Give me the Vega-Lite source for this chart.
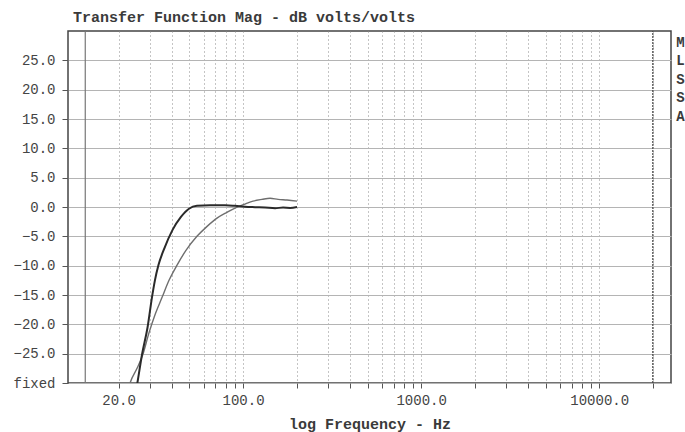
{
  "$schema": "https://vega.github.io/schema/vega-lite/v6.json",
  "width": 603,
  "height": 352,
  "autosize": "none",
  "padding": {"left": 68, "top": 31, "right": 14, "bottom": 49},
  "background": "white",
  "config": {
    "view": {"stroke": "#444", "strokeWidth": 1.5},
    "font": "Liberation Mono"
  },
  "title": {
    "text": "Transfer Function Mag - dB volts/volts",
    "anchor": "start",
    "frame": "group",
    "dx": 5,
    "offset": 5,
    "font": "Liberation Mono",
    "fontSize": 15,
    "fontWeight": "bold",
    "color": "#3a3a3a"
  },
  "datasets": {
    "curves": [
      {"series": "A", "f": 25.0, "db": -31.5},
      {"series": "A", "f": 25.5, "db": -30.0},
      {"series": "A", "f": 27.1, "db": -25.1},
      {"series": "A", "f": 29.1, "db": -20.5},
      {"series": "A", "f": 30.8, "db": -15.4},
      {"series": "A", "f": 32.0, "db": -12.5},
      {"series": "A", "f": 33.5, "db": -9.9},
      {"series": "A", "f": 36.2, "db": -7.0},
      {"series": "A", "f": 40.2, "db": -3.9},
      {"series": "A", "f": 44.8, "db": -1.7},
      {"series": "A", "f": 49.7, "db": -0.3},
      {"series": "A", "f": 55.1, "db": 0.2},
      {"series": "A", "f": 65.3, "db": 0.3},
      {"series": "A", "f": 79.2, "db": 0.3},
      {"series": "A", "f": 90.2, "db": 0.2},
      {"series": "A", "f": 102.6, "db": 0.05},
      {"series": "A", "f": 116.8, "db": -0.03},
      {"series": "A", "f": 132.9, "db": -0.1},
      {"series": "A", "f": 151.4, "db": -0.2},
      {"series": "A", "f": 167.8, "db": -0.1},
      {"series": "A", "f": 183.7, "db": -0.15},
      {"series": "A", "f": 201.0, "db": 0.0},
      {"series": "B", "f": 22.7, "db": -31.0},
      {"series": "B", "f": 23.2, "db": -30.0},
      {"series": "B", "f": 25.4, "db": -27.5},
      {"series": "B", "f": 27.4, "db": -25.1},
      {"series": "B", "f": 29.6, "db": -21.5},
      {"series": "B", "f": 32.0, "db": -18.4},
      {"series": "B", "f": 35.1, "db": -15.4},
      {"series": "B", "f": 38.4, "db": -12.5},
      {"series": "B", "f": 42.6, "db": -9.9},
      {"series": "B", "f": 47.8, "db": -7.4},
      {"series": "B", "f": 55.1, "db": -5.0},
      {"series": "B", "f": 62.8, "db": -3.3},
      {"series": "B", "f": 71.4, "db": -1.9},
      {"series": "B", "f": 81.3, "db": -0.9},
      {"series": "B", "f": 91.3, "db": -0.1},
      {"series": "B", "f": 102.6, "db": 0.5},
      {"series": "B", "f": 113.8, "db": 1.0},
      {"series": "B", "f": 127.8, "db": 1.3},
      {"series": "B", "f": 141.8, "db": 1.5},
      {"series": "B", "f": 157.4, "db": 1.3},
      {"series": "B", "f": 176.6, "db": 1.2},
      {"series": "B", "f": 201.0, "db": 1.0}
    ],
    "markers": [
      {"kind": "low", "f": 13.0},
      {"kind": "high", "f": 20000}
    ]
  },
  "resolve": {"axis": {"y": "independent"}},
  "layer": [
    {
      "data": {"name": "curves"},
      "transform": [{"filter": "datum.series == 'B'"}],
      "mark": {"type": "line", "clip": true, "interpolate": "monotone", "color": "#6e6e6e", "strokeWidth": 1.4},
      "encoding": {
        "x": {
          "field": "f",
          "type": "quantitative",
          "scale": {"type": "log", "domain": [10.4, 25300], "nice": false},
          "axis": {
            "values": [20, 30, 40, 50, 60, 70, 80, 90, 100, 200, 300, 400, 500, 600, 700, 800, 900, 1000, 2000, 3000, 4000, 5000, 6000, 7000, 8000, 9000, 10000, 20000],
            "labelExpr": "indexof([20, 100, 1000, 10000], datum.value) >= 0 ? format(datum.value, '.1f') : ''",
            "labelOverlap": false,
            "labelFlush": false,
            "labelBound": false,
            "labelFont": "Liberation Mono",
            "labelFontSize": 14,
            "labelColor": "#444",
            "labelPadding": 5,
            "domain": false,
            "ticks": true,
            "tickSize": 5,
            "tickColor": "#555",
            "grid": true,
            "gridDash": [1, 3],
            "gridColor": "#8a8a8a",
            "gridWidth": 1,
            "title": "log Frequency - Hz",
            "titleFont": "Liberation Mono",
            "titleFontSize": 15,
            "titleFontWeight": "bold",
            "titleColor": "#3a3a3a",
            "titlePadding": 9
          }
        },
        "y": {
          "field": "db",
          "type": "quantitative",
          "scale": {"domain": [-30, 30], "nice": false},
          "axis": {
            "orient": "left",
            "values": [-30, -25, -20, -15, -10, -5, 0, 5, 10, 15, 20, 25],
            "labelExpr": "datum.value == -30 ? 'fixed' : format(datum.value, '.1f')",
            "labelFont": "Liberation Mono",
            "labelFontSize": 14,
            "labelColor": "#444",
            "labelPadding": 7,
            "labelOverlap": false,
            "labelBound": false,
            "domain": false,
            "tickSize": 6,
            "tickColor": "#555",
            "grid": true,
            "gridColor": "#b4b4b4",
            "gridWidth": 1.2,
            "title": null
          }
        }
      }
    },
    {
      "data": {"name": "curves"},
      "transform": [{"filter": "datum.series == 'A'"}],
      "mark": {"type": "line", "clip": true, "interpolate": "monotone", "color": "#2a2a2a", "strokeWidth": 2},
      "encoding": {
        "x": {"field": "f", "type": "quantitative"},
        "y": {"field": "db", "type": "quantitative", "axis": null}
      }
    },
    {
      "data": {"name": "markers"},
      "transform": [{"filter": "datum.kind == 'low'"}],
      "mark": {"type": "rule", "strokeWidth": 1.2, "color": "#777"},
      "encoding": {
        "x": {"field": "f", "type": "quantitative"},
        "y": {"datum": -30, "type": "quantitative", "axis": null},
        "y2": {"datum": 30}
      }
    },
    {
      "data": {"name": "markers"},
      "transform": [{"filter": "datum.kind == 'high'"}],
      "mark": {"type": "rule", "strokeWidth": 1.2, "color": "#444", "strokeDash": [2, 1]},
      "encoding": {
        "x": {"field": "f", "type": "quantitative"},
        "y": {
          "datum": -30,
          "type": "quantitative",
          "axis": {
            "orient": "right",
            "labels": false,
            "ticks": false,
            "domain": false,
            "grid": false,
            "title": ["M", "L", "S", "S", "A"],
            "titleAngle": 0,
            "titleAlign": "center",
            "titleBaseline": "top",
            "titleX": 9,
            "titleY": 4,
            "titleLineHeight": 18.5,
            "titleFont": "Liberation Mono",
            "titleFontSize": 14,
            "titleFontWeight": "bold",
            "titleColor": "#3a3a3a"
          }
        },
        "y2": {"datum": 30}
      }
    }
  ]
}
